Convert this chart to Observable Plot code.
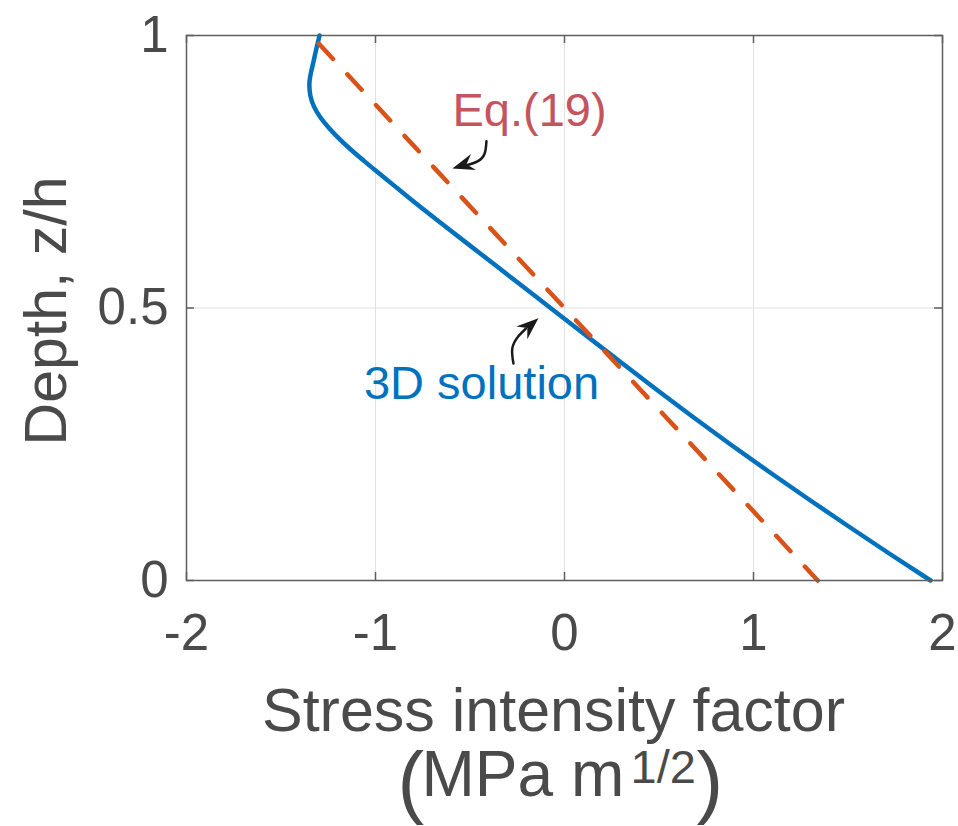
<!DOCTYPE html>
<html><head><meta charset="utf-8">
<script src="https://cdn.jsdelivr.net/npm/d3@7"></script>
<script src="https://cdn.jsdelivr.net/npm/@observablehq/plot@0.6"></script>
<style>body{margin:0;background:#fff}</style>
</head><body><div id="chart"></div>
<script>
// ---- data ----
const xTicks = [-2, -1, 0, 1, 2];
const xTickLabels = ["-2", "-1", "0", "1", "2"];
const yTicks = [0, 0.5, 1];
const yTickLabels = ["0", "0.5", "1"];

// 3D solution (stress intensity factor K vs depth z/h)
const solZ = [1.000, 0.955, 0.910, 0.890, 0.870, 0.850, 0.830, 0.810, 0.790, 0.770, 0.749, 0.725, 0.700, 0.650, 0.600, 0.550, 0.500, 0.450, 0.400, 0.350, 0.300, 0.250, 0.200, 0.150, 0.100, 0.050, 0.000];
const solK = [-1.296, -1.326, -1.350, -1.345, -1.326, -1.292, -1.245, -1.190, -1.128, -1.061, -0.988, -0.903, -0.815, -0.632, -0.446, -0.260, -0.074, 0.112, 0.300, 0.488, 0.680, 0.877, 1.080, 1.288, 1.500, 1.716, 1.937];

// Eq.(19)
const eqZ = [1, 0];
const eqK = [-1.34, 1.34];

// annotations
const labelTexts = ["Eq.(19)", "3D solution"];
const labelK = [-0.185, -0.439];
const labelZ = [0.862, 0.361];

const eqArrowK = [-0.413, -0.423, -0.460, -0.520];
const eqArrowZ = [0.806, 0.783, 0.769, 0.762];
const solArrowK = [-0.270, -0.276, -0.244, -0.205];
const solArrowZ = [0.398, 0.426, 0.448, 0.462];
const tipK = [-0.593, -0.138];
const tipZ = [0.756, 0.481];
const tipAngle = [-107, 49];

// ---- build ----
const blue = "#0072BD", orange = "#D95319", eqColor = "#C4545E", ink = "#4a4a4a";
const solution = solK.map((k, i) => ({k, z: solZ[i]}));
const eqLine = eqK.map((k, i) => ({k, z: eqZ[i]}));
const eqArrow = eqArrowK.map((k, i) => ({k, z: eqArrowZ[i]}));
const solArrow = solArrowK.map((k, i) => ({k, z: solArrowZ[i]}));
const tips = tipK.map((k, i) => ({k, z: tipZ[i], a: tipAngle[i]}));

const arrowHead = {
  draw(ctx, size) {
    const s = Math.sqrt(size / Math.PI);
    const L = s * 2.1, W = s * 0.8, N = s * 1.4;
    ctx.moveTo(0, 0); ctx.lineTo(W, L); ctx.lineTo(0, N); ctx.lineTo(-W, L); ctx.closePath();
  }
};

const W = 958, H = 826, mL = 186, mR = 16, mT = 35, mB = 246;
const fw = W - mL - mR, fh = H - mT - mB;
const t = {textAnchor: "middle", lineAnchor: "middle", fill: ink};

const chart = Plot.plot({
  width: W, height: H,
  marginLeft: mL, marginRight: mR, marginTop: mT, marginBottom: mB,
  style: {fontFamily: "'Liberation Sans', Arial, Helvetica, sans-serif", background: "#fff", color: ink},
  x: {domain: [-2, 2]},
  y: {domain: [0, 1]},
  marks: [
    Plot.gridX(xTicks, {stroke: "#e2e2e2", strokeOpacity: 1, strokeWidth: 1}),
    Plot.gridY(yTicks, {stroke: "#e2e2e2", strokeOpacity: 1, strokeWidth: 1}),
    Plot.line(solution, {x: "k", y: "z", stroke: blue, strokeWidth: 4.5, curve: "monotone-y"}),
    Plot.line(eqLine, {x: "k", y: "z", stroke: orange, strokeWidth: 4.5, strokeDasharray: "21,21", strokeDashoffset: 31}),
    Plot.frame({stroke: "#5e5e5e", strokeWidth: 1.5}),
    Plot.tickX(xTicks, {x: d => d, insetTop: fh - 8, stroke: "#5e5e5e", strokeWidth: 1.5}),
    Plot.tickX(xTicks, {x: d => d, insetBottom: fh - 8, stroke: "#5e5e5e", strokeWidth: 1.5}),
    Plot.tickY(yTicks, {y: d => d, insetRight: fw - 8, stroke: "#5e5e5e", strokeWidth: 1.5}),
    Plot.tickY(yTicks, {y: d => d, insetLeft: fw - 8, stroke: "#5e5e5e", strokeWidth: 1.5}),
    Plot.axisX(xTicks, {tickSize: 0, tickPadding: 33, fontSize: 51, fill: ink, label: null,
      tickFormat: d => xTickLabels[xTicks.indexOf(d)]}),
    Plot.axisY(yTicks, {tickSize: 0, tickPadding: 18, fontSize: 51, fill: ink, label: null,
      tickFormat: d => yTickLabels[yTicks.indexOf(d)]}),
    // axis titles
    Plot.text(["Depth, z/h"], {...t, text: d => d, frameAnchor: "left", rotate: -90, dx: -139, dy: 3, fontSize: 59}),
    Plot.text(["Stress intensity factor"], {...t, text: d => d, frameAnchor: "bottom", dx: -11, dy: 131, fontSize: 61}),
    Plot.text(["("], {...t, textAnchor: "start", text: d => d, frameAnchor: "bottom", dx: -167, dy: 202, fontSize: 80}),
    Plot.text(["MPa m"], {...t, textAnchor: "start", text: d => d, frameAnchor: "bottom", dx: -143, dy: 195, fontSize: 64}),
    Plot.text(["1/2"], {...t, textAnchor: "start", text: d => d, frameAnchor: "bottom", dx: 66, dy: 187, fontSize: 47}),
    Plot.text([")"], {...t, textAnchor: "start", text: d => d, frameAnchor: "bottom", dx: 132, dy: 202, fontSize: 80}),
    // annotations
    Plot.line(eqArrow, {x: "k", y: "z", stroke: "#1a1a1a", strokeWidth: 2.5, curve: "natural"}),
    Plot.line(solArrow, {x: "k", y: "z", stroke: "#1a1a1a", strokeWidth: 2.5, curve: "natural"}),
    Plot.dot(tips, {x: "k", y: "z", r: 10.5, symbol: arrowHead, rotate: "a", fill: "#1a1a1a", stroke: null}),
    Plot.text([labelTexts[0]], {text: d => d, x: () => labelK[0], y: () => labelZ[0], fontSize: 47, fill: eqColor}),
    Plot.text([labelTexts[1]], {text: d => d, x: () => labelK[1], y: () => labelZ[1], fontSize: 47, fill: blue})
  ]
});
document.getElementById("chart").appendChild(chart);
</script>
</body></html>
